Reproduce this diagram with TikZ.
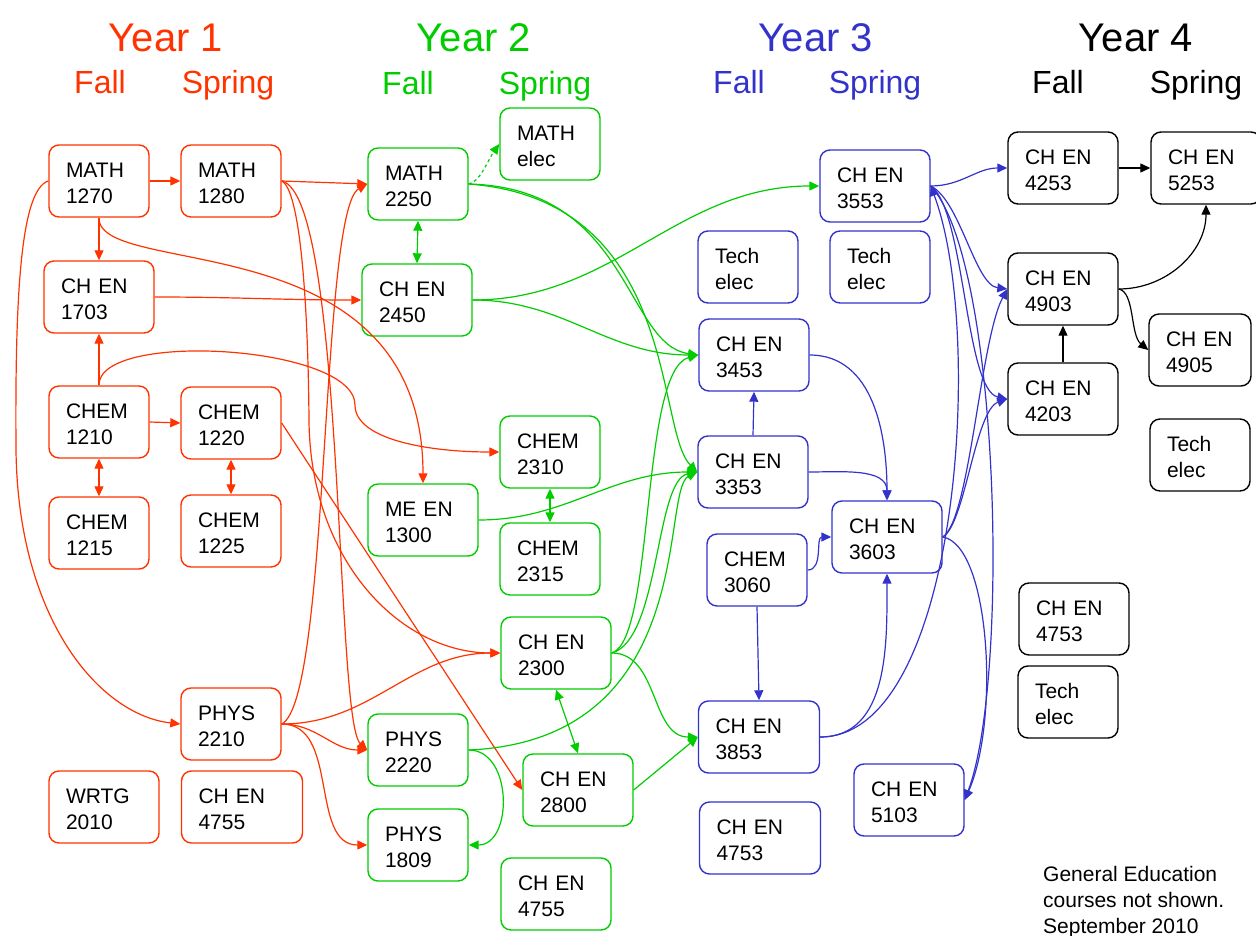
\documentclass[tikz,border=0pt]{standalone}
\usepackage{fontspec}
\setmainfont{Liberation Sans}
\usepackage{xcolor}
\usepackage{tikz}
\usetikzlibrary{arrows.meta}
\definecolor{yearone}{RGB}{255,51,0}
\definecolor{yeartwo}{RGB}{0,204,0}
\definecolor{yearthree}{RGB}{51,51,204}

\begin{document}
\begin{tikzpicture}[x=1pt, y=1pt,
  course/.style={draw, rounded corners=10pt, line width=1.4pt, align=left, text width=66pt, inner xsep=17pt, inner ysep=0pt, minimum height=72pt, font=\fontsize{21pt}{26pt}\selectfont, text=black, execute at begin node={\rule{0pt}{19pt}}},
  wide/.style={text width=76pt},
  wider/.style={text width=87pt},
  prereq/.style={line width=1.2pt, -{Triangle[length=10pt,width=9pt]}},
  twoway/.style={line width=1.2pt, {Triangle[length=10pt,width=9pt]}-{Triangle[length=10pt,width=9pt]}},
  yearlbl/.style={font=\fontsize{40pt}{48pt}\selectfont, anchor=base},
  termlbl/.style={font=\fontsize{32pt}{38pt}\selectfont, anchor=base}]
  \useasboundingbox (0,0) rectangle (1256,-936);
  \node[yearlbl, text=yearone] (yr1) at (166,-52) {Year 1};
  \node[termlbl, text=yearone] (fall1) at (100,-94) {Fall};
  \node[termlbl, text=yearone] (spring1) at (228,-94) {Spring};
  \node[yearlbl, text=yeartwo] (yr2) at (474,-52) {Year 2};
  \node[termlbl, text=yeartwo] (fall2) at (408,-95) {Fall};
  \node[termlbl, text=yeartwo] (spring2) at (545,-95) {Spring};
  \node[yearlbl, text=yearthree] (yr3) at (816,-52) {Year 3};
  \node[termlbl, text=yearthree] (fall3) at (739,-94) {Fall};
  \node[termlbl, text=yearthree] (spring3) at (875,-94) {Spring};
  \node[yearlbl] (yr4) at (1136,-52) {Year 4};
  \node[termlbl] (fall4) at (1058,-94) {Fall};
  \node[termlbl] (spring4) at (1196,-94) {Spring};
  \node[course, draw=yearone] (math1270) at (99,-181) {MATH\\1270};
  \node[course, draw=yearone] (math1280) at (231,-181) {MATH\\1280};
  \node[course, wide, draw=yearone] (chen1703) at (99,-297) {CH EN\\1703};
  \node[course, draw=yearone] (chem1210) at (99,-422) {CHEM\\1210};
  \node[course, draw=yearone] (chem1220) at (231,-423) {CHEM\\1220};
  \node[course, draw=yearone] (chem1215) at (99,-533) {CHEM\\1215};
  \node[course, draw=yearone] (chem1225) at (231,-531) {CHEM\\1225};
  \node[course, draw=yearone] (phys2210) at (231,-724) {PHYS\\2210};
  \node[course, wide, draw=yearone] (wrtg2010) at (104,-807) {WRTG\\2010};
  \node[course, wider, draw=yearone] (chen4755a) at (242,-807) {CH EN\\4755};
  \node[course, draw=yeartwo] (math2250) at (418,-184) {MATH\\2250};
  \node[course, draw=yeartwo] (mathelec) at (550,-144) {MATH\\elec};
  \node[course, wide, draw=yeartwo] (chen2450) at (417,-300) {CH EN\\2450};
  \node[course, draw=yeartwo] (chem2310) at (550,-452) {CHEM\\2310};
  \node[course, wide, draw=yeartwo] (meen1300) at (423,-520) {ME EN\\1300};
  \node[course, draw=yeartwo] (chem2315) at (550,-559) {CHEM\\2315};
  \node[course, wide, draw=yeartwo] (chen2300) at (556,-653) {CH EN\\2300};
  \node[course, draw=yeartwo] (phys2220) at (418,-750) {PHYS\\2220};
  \node[course, wide, draw=yeartwo] (chen2800) at (578,-790) {CH EN\\2800};
  \node[course, draw=yeartwo] (phys1809) at (418,-845) {PHYS\\1809};
  \node[course, wide, draw=yeartwo] (chen4755b) at (556,-894) {CH EN\\4755};
  \node[course, wide, draw=yearthree] (chen3553) at (875,-186) {CH EN\\3553};
  \node[course, draw=yearthree] (techa) at (748,-267) {Tech\\elec};
  \node[course, draw=yearthree] (techb) at (880,-267) {Tech\\elec};
  \node[course, wide, draw=yearthree] (chen3453) at (754,-355) {CH EN\\3453};
  \node[course, wide, draw=yearthree] (chen3353) at (753,-472) {CH EN\\3353};
  \node[course, wide, draw=yearthree] (chen3603) at (887,-537) {CH EN\\3603};
  \node[course, draw=yearthree] (chem3060) at (757,-570) {CHEM\\3060};
  \node[course, wider, draw=yearthree] (chen3853) at (759,-737) {CH EN\\3853};
  \node[course, wider, draw=yearthree] (chen4753a) at (760,-838) {CH EN\\4753};
  \node[course, wide, draw=yearthree] (chen5103) at (909,-800) {CH EN\\5103};
  \node[course, wide] (chen4253) at (1063,-168) {CH EN\\4253};
  \node[course, wide] (chen5253) at (1206,-168) {CH EN\\5253};
  \node[course, wide] (chen4903) at (1063,-289) {CH EN\\4903};
  \node[course, text width=68pt] (chen4905) at (1200,-350) {CH EN\\4905};
  \node[course, wide] (chen4203) at (1063,-399) {CH EN\\4203};
  \node[course] (techc) at (1200,-455) {Tech\\elec};
  \node[course, wide] (chen4753b) at (1074,-619) {CH EN\\4753};
  \node[course] (techd) at (1068,-702) {Tech\\elec};
  \node[font=\fontsize{21pt}{26pt}\selectfont, align=left, anchor=north west, inner sep=0pt] (note) at (1043,-866) {General Education\\courses not shown.\\September 2010};
  \draw[prereq, yearone] (math1270.east) -- (math1280.west);
  \draw[prereq, yearone] (math1270.south) -- (chen1703.north);
  \draw[prereq, yearone] (math1270.south) .. controls (98,-280) and (423,-220) .. (meen1300.north);
  \draw[prereq, yearone] (math1270.west) .. controls (20,-190) and (15,-300) .. (16,-450) .. controls (18,-620) and (100,-715) .. (phys2210.west);
  \draw[prereq, yearone] (chem1210.north) -- (chen1703.south);
  \draw[prereq, yearone] (chem1210.north) .. controls (98,-330) and (355,-345) .. (355,-405) .. controls (355,-440) and (430,-452) .. (chem2310.west);
  \draw[prereq, yearone] (chem1210.east) -- (chem1220.west);
  \draw[twoway, yearone] (chem1210.south) -- (chem1215.north);
  \draw[twoway, yearone] (chem1220.south) -- (chem1225.north);
  \draw[prereq, yearone] (chen1703.east) to[out=0, in=180] (chen2450.west);
  \draw[prereq, yearone] (math1280.east) -- (math2250.west);
  \draw[prereq, yearone] (math1280.east) .. controls (345,-195) and (335,-720) .. (phys2220.west);
  \draw[prereq, yearone] (math1280.east) .. controls (300,-190) and (308,-300) .. (309,-420) .. controls (310,-560) and (400,-653) .. (chen2300.west);
  \draw[prereq, yearone] (chem1220.east) -- (chen2800.west);
  \draw[prereq, yearone] (phys2210.east) .. controls (330,-700) and (320,-210) .. (math2250.west);
  \draw[prereq, yearone] (phys2210.east) to[out=0, in=180] (chen2300.west);
  \draw[prereq, yearone] (phys2210.east) to[out=0, in=180] (phys2220.west);
  \draw[prereq, yearone] (phys2210.east) to[out=0, in=180] (phys1809.west);
  \draw[twoway, yeartwo] (math2250.south) -- (chen2450.north);
  \draw[prereq, yeartwo, dashed] (math2250.east) .. controls (480,-182) and (488,-160) .. (mathelec.west);
  \draw[prereq, yeartwo] (math2250.east) .. controls (630,-188) and (625,-345) .. (chen3453.west);
  \draw[prereq, yeartwo] (math2250.east) .. controls (680,-200) and (655,-430) .. (chen3353.west);
  \draw[prereq, yeartwo] (chen2450.east) to[out=0, in=180] (chen3553.west);
  \draw[prereq, yeartwo] (chen2450.east) to[out=0, in=180] (chen3453.west);
  \draw[prereq, yeartwo] (meen1300.east) to[out=0, in=180] (chen3353.west);
  \draw[twoway, yeartwo] (chem2310.south) -- (chem2315.north);
  \draw[prereq, yeartwo] (chen2300.east) .. controls (655,-640) and (640,-370) .. (chen3453.west);
  \draw[prereq, yeartwo] (chen2300.east) .. controls (660,-640) and (655,-480) .. (chen3353.west);
  \draw[prereq, yeartwo] (chen2300.east) to[out=0, in=180] (chen3853.west);
  \draw[twoway, yeartwo] (chen2300.south) -- (chen2800.north);
  \draw[prereq, yeartwo] (chen2800.east) -- (chen3853.west);
  \draw[prereq, yeartwo] (phys2220.east) .. controls (700,-740) and (660,-490) .. (chen3353.west);
  \draw[prereq, yeartwo] (phys2220.east) to[out=0, in=0, looseness=1.2] (phys1809.east);
  \draw[prereq, yearthree] (chen3353.north) -- (chen3453.south);
  \draw[prereq, yearthree] (chen3453.east) to[out=0, in=90] (chen3603.north);
  \draw[prereq, yearthree] (chen3353.east) to[out=0, in=90] (chen3603.north);
  \draw[prereq, yearthree] (chem3060.east) to[out=0, in=180] (chen3603.west);
  \draw[prereq, yearthree] (chem3060.south) -- (chen3853.north);
  \draw[prereq, yearthree] (chen3853.east) to[out=0, in=-90] (chen3603.south);
  \draw[prereq, yearthree] (chen3853.east) .. controls (960,-737) and (985,-330) .. (chen3553.east);
  \draw[prereq, yearthree] (chen3553.east) to[out=0, in=180] (chen4253.west);
  \draw[prereq, yearthree] (chen3553.east) .. controls (960,-200) and (975,-285) .. (chen4903.west);
  \draw[prereq, yearthree] (chen3553.east) .. controls (965,-210) and (965,-390) .. (chen4203.west);
  \draw[prereq, yearthree] (chen3553.east) .. controls (1000,-260) and (1010,-680) .. (chen5103.east);
  \draw[prereq, yearthree] (chen3603.east) .. controls (970,-520) and (980,-340) .. (chen4903.west);
  \draw[prereq, yearthree] (chen3603.east) .. controls (965,-525) and (975,-410) .. (chen4203.west);
  \draw[prereq, yearthree] (chen3603.east) .. controls (990,-545) and (1000,-720) .. (chen5103.east);
  \draw[prereq] (chen4253.east) -- (chen5253.west);
  \draw[prereq] (chen4203.north) -- (chen4903.south);
  \draw[prereq] (chen4903.east) to[out=0, in=-90] (chen5253.south);
  \draw[prereq] (chen4903.east) .. controls (1135,-292) and (1130,-335) .. (chen4905.west);
\end{tikzpicture}
\end{document}
